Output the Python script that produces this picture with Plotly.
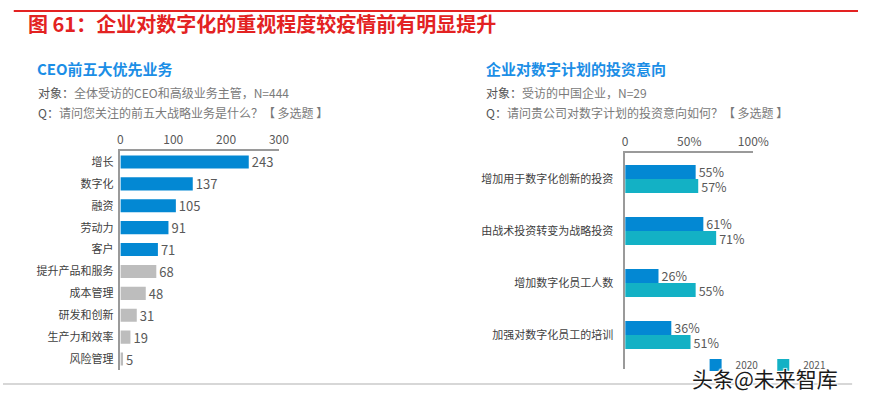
import plotly.graph_objects as go

W, H = 874, 400
FONT = "Noto Sans CJK SC, Noto Sans, sans-serif"

# Left chart data
ceo_cats = ["增长", "数字化", "融资", "劳动力", "客户", "提升产品和服务", "成本管理", "研发和创新", "生产力和效率", "风险管理"]
ceo_vals = [243, 137, 105, 91, 71, 68, 48, 31, 19, 5]
ceo_top_n = 5
ceo_ticks = [0, 100, 200, 300]

# Right chart data
inv_cats = ["增加用于数字化创新的投资", "由战术投资转变为战略投资", "增加数字化员工人数", "加强对数字化员工的培训"]
inv_2020 = [55, 61, 26, 36]
inv_2021 = [57, 71, 55, 51]
inv_ticks = [0, 50, 100]
inv_ticktext = ["0", "50%", "100%"]
series_names = ["2020", "2021"]

BLUE = "#0388d3"
TEAL = "#13b1c5"
GREY = "#bdbdbd"

def px_x(p):
    return p / W

def px_y(p):
    return 1 - p / H

fig = go.Figure()

colors_left = [BLUE if i < ceo_top_n else GREY for i in range(len(ceo_vals))]
fig.add_trace(go.Bar(
    x=ceo_vals, y=ceo_cats, orientation="h", marker=dict(color=colors_left, line=dict(width=0)),
    text=[str(v) for v in ceo_vals], textposition="outside", cliponaxis=False, constraintext="none",
    textfont=dict(size=13, color="#595959"), xaxis="x", yaxis="y", showlegend=False,
    width=0.6, hoverinfo="skip"))

fig.add_trace(go.Bar(
    x=inv_2020, y=inv_cats, orientation="h", name=series_names[0], marker=dict(color=BLUE, line=dict(width=0)),
    text=[f"{v}%" for v in inv_2020], textposition="outside", cliponaxis=False, constraintext="none",
    textfont=dict(size=12.5, color="#595959"), xaxis="x2", yaxis="y2", hoverinfo="skip"))
fig.add_trace(go.Bar(
    x=inv_2021, y=inv_cats, orientation="h", name=series_names[1], marker=dict(color=TEAL, line=dict(width=0)),
    text=[f"{v}%" for v in inv_2021], textposition="outside", cliponaxis=False, constraintext="none",
    textfont=dict(size=12.5, color="#595959"), xaxis="x2", yaxis="y2", hoverinfo="skip"))

axis_common = dict(showgrid=False, zeroline=False, ticks="", showline=True, linecolor="#9a9a9a", linewidth=1.5)

fig.update_layout(
    width=W, height=H, margin=dict(l=0, r=0, t=0, b=0),
    paper_bgcolor="white", plot_bgcolor="white",
    font=dict(family=FONT, color="#595959"),
    barmode="group", bargap=0.46, bargroupgap=0.0,
    xaxis=dict(domain=[px_x(120), px_x(282)], range=[0, 300], side="top", tickvals=ceo_ticks,
               tickfont=dict(size=12, color="#595959"), anchor="y", **axis_common),
    yaxis=dict(domain=[px_y(370), px_y(151)], range=[9.5, -0.5], type="category",
               tickfont=dict(size=11, color="#404040"), anchor="x", ticklabelstandoff=3, **axis_common),
    xaxis2=dict(domain=[px_x(636), px_x(767)], range=[0, 100], side="top", tickvals=inv_ticks, ticktext=inv_ticktext,
                tickfont=dict(size=12, color="#595959"), anchor="y2", **axis_common),
    yaxis2=dict(domain=[px_y(369), px_y(153)], range=[3.654, -0.5], type="category",
                tickfont=dict(size=11, color="#404040"), anchor="x2", ticklabelstandoff=8, **axis_common),
    legend=dict(orientation="h", x=px_x(708), y=px_y(365), xanchor="left", yanchor="middle",
                font=dict(size=10, color="#595959"), itemwidth=30, bgcolor="rgba(0,0,0,0)"),
)

anns = [
    dict(text="图 61：企业对数字化的重视程度较疫情前有明显提升", x=px_x(24), y=px_y(23), xanchor="left", yanchor="middle",
         font=dict(size=20, color="#e32222", weight="bold")),
    dict(text="CEO前五大优先业务", x=px_x(33), y=px_y(68), xanchor="left", yanchor="middle",
         font=dict(size=15, color="#1b8ee6", weight="bold")),
    dict(text="<span style='color:#555'>对象：</span>全体受访的CEO和高级业务主管，N=444", x=px_x(34), y=px_y(92), xanchor="left", yanchor="middle",
         font=dict(size=12, color="#7a7a7a")),
    dict(text="<span style='color:#555'>Q：</span>请问您关注的前五大战略业务是什么？【 多选题 】", x=px_x(34), y=px_y(113), xanchor="left", yanchor="middle",
         font=dict(size=12, color="#7a7a7a")),
    dict(text="企业对数字计划的投资意向", x=px_x(492), y=px_y(68), xanchor="left", yanchor="middle",
         font=dict(size=15, color="#1b8ee6", weight="bold")),
    dict(text="<span style='color:#555'>对象：</span>受访的中国企业，N=29", x=px_x(492), y=px_y(92), xanchor="left", yanchor="middle",
         font=dict(size=12, color="#7a7a7a")),
    dict(text="<span style='color:#555'>Q：</span>请问贵公司对数字计划的投资意向如何？【 多选题 】", x=px_x(492), y=px_y(113), xanchor="left", yanchor="middle",
         font=dict(size=12, color="#7a7a7a")),
    dict(text="头条@未来智库", x=px_x(702), y=px_y(378), xanchor="left", yanchor="middle",
         font=dict(size=21, color="#1a1a1a", shadow="1px 1px 1px white, -1px -1px 1px white, 1px -1px 1px white, -1px 1px 1px white")),
]
for a in anns:
    a.update(xref="paper", yref="paper", showarrow=False)
fig.update_layout(annotations=anns)

fig.update_layout(shapes=[
    dict(type="line", xref="paper", yref="paper", x0=px_x(11), x1=1, y0=px_y(11), y1=px_y(11),
         line=dict(color="#e32222", width=2)),
    dict(type="line", xref="paper", yref="paper", x0=0, x1=px_x(868), y0=px_y(384), y1=px_y(384),
         line=dict(color="#b0b0b0", width=1.2)),
])

fig.write_html("out.html", config={"displayModeBar": False},
               post_script="document.body.style.margin='0px';document.body.style.overflow='hidden';")
